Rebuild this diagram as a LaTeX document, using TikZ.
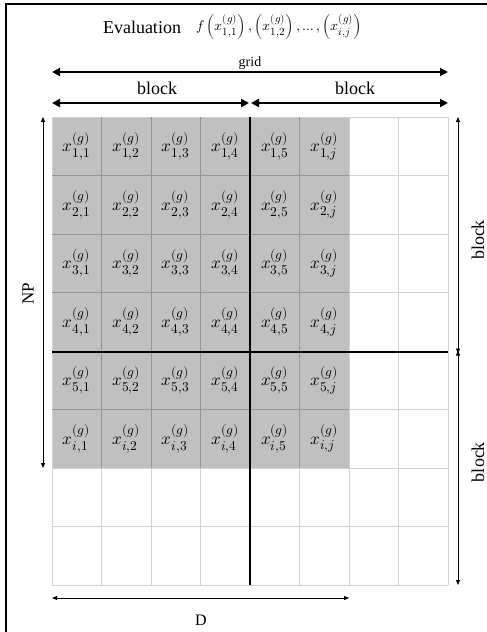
\documentclass[tikz,border=0pt]{standalone}
\usepackage{amsmath}
\usepackage{fontspec}
\usepackage{unicode-math}
\setmainfont{Liberation Serif}
\setmathfont{Latin Modern Math}
\DeclareMathSizes{17}{17}{13.5}{11}
\DeclareMathSizes{14}{14}{11}{9}
\usetikzlibrary{arrows.meta}

\definecolor{cellgray}{RGB}{192,192,192}
\definecolor{linedark}{RGB}{150,150,150}
\definecolor{linelight}{RGB}{210,210,210}

\tikzset{
  bigarrow/.style={line width=2.2pt, {Triangle[length=8pt,width=8pt]}-{Triangle[length=8pt,width=8pt]}},
  thinarrow/.style={line width=0.8pt, {Triangle[length=5pt,width=4pt]}-{Triangle[length=5pt,width=4pt]}},
  label/.style={font=\fontsize{18}{20}\selectfont, inner sep=0pt},
  cell/.style={font=\fontsize{17}{19}\selectfont, inner sep=0pt}
}

\begin{document}
\begin{tikzpicture}[x=1pt, y=-1pt]
  \useasboundingbox (0,0) rectangle (487,632);

  % Frame (only left and top show)
  \draw[line width=1.2pt] (6,632) -- (6,4) -- (487,4);

  % Shaded part of the population
  \fill[cellgray] (52,117) rectangle (349,468);

  % Grid lines
  \foreach \c in {0,...,8}
    \draw[linelight, line width=0.8pt] (52+49.5*\c,117) -- (52+49.5*\c,585);
  \foreach \r in {0,...,8}
    \draw[linelight, line width=0.8pt] (52,117+58.5*\r) -- (448,117+58.5*\r);
  \foreach \c in {1,...,5}
    \draw[linedark, line width=0.6pt] (52+49.5*\c,117) -- (52+49.5*\c,468);
  \foreach \r in {1,...,5}
    \draw[linedark, line width=0.6pt] (52,117+58.5*\r) -- (349,117+58.5*\r);

  % Cell labels
  \foreach \r [count=\ri] in {1,2,3,4,5,i}
    \foreach \c [count=\ci] in {1,2,3,4,5,j}
      \node[cell] (cell-\ri-\ci) at (52+49.5*\ci-24.75, 117+58.5*\ri-29.25) {$x^{(g)}_{\r,\c}$};

  % Block borders
  \draw[line width=2.6pt] (250,117) -- (250,585);
  \draw[line width=2.6pt] (52,352) -- (448,352);

  % Title
  \node[label] (eval) at (142,27) {Evaluation};
  \node[font=\fontsize{14}{16}\selectfont, inner sep=0pt] (formula) at (279,27)
    {$f\left(x^{(g)}_{1,1}\right), \left(x^{(g)}_{1,2}\right), \ldots, \left(x^{(g)}_{i,j}\right)$};
  \node[font=\fontsize{14}{16}\selectfont, inner sep=0pt] (gridlabel) at (250,63) {grid};

  % Top arrows
  \coordinate (gridL) at (52,72);
  \coordinate (gridR) at (448,72);
  \draw[bigarrow] (gridL) -- (gridR);
  \coordinate (blockL) at (52,103);
  \coordinate (blockM) at (250,103);
  \coordinate (blockR) at (448,103);
  \draw[bigarrow] (blockL) -- ([xshift=-1pt]blockM);
  \draw[bigarrow] ([xshift=1pt]blockM) -- (blockR);
  \node[label] (blocktopL) at (157,88) {block};
  \node[label] (blocktopR) at (355,88) {block};

  % Left arrow
  \coordinate (npT) at (43,117);
  \coordinate (npB) at (43,468);
  \draw[thinarrow] (npT) -- (npB);
  \node[label, font=\fontsize{17}{19}\selectfont, rotate=90] (np) at (28,294) {NP};

  % Right arrows
  \coordinate (rT) at (458,117);
  \coordinate (rM) at (458,352);
  \coordinate (rB) at (458,585);
  \draw[thinarrow] (rT) -- ([yshift=-1.5pt]rM);
  \draw[thinarrow] ([yshift=1.5pt]rM) -- (rB);
  \node[label, rotate=90] (blockrT) at (478,240) {block};
  \node[label, rotate=90] (blockrB) at (478,462) {block};

  % Bottom arrow
  \coordinate (dL) at (52,598);
  \coordinate (dR) at (349,598);
  \draw[thinarrow] (dL) -- (dR);
  \node[label, font=\fontsize{16}{18}\selectfont] (dlabel) at (201,620) {D};
\end{tikzpicture}
\end{document}
